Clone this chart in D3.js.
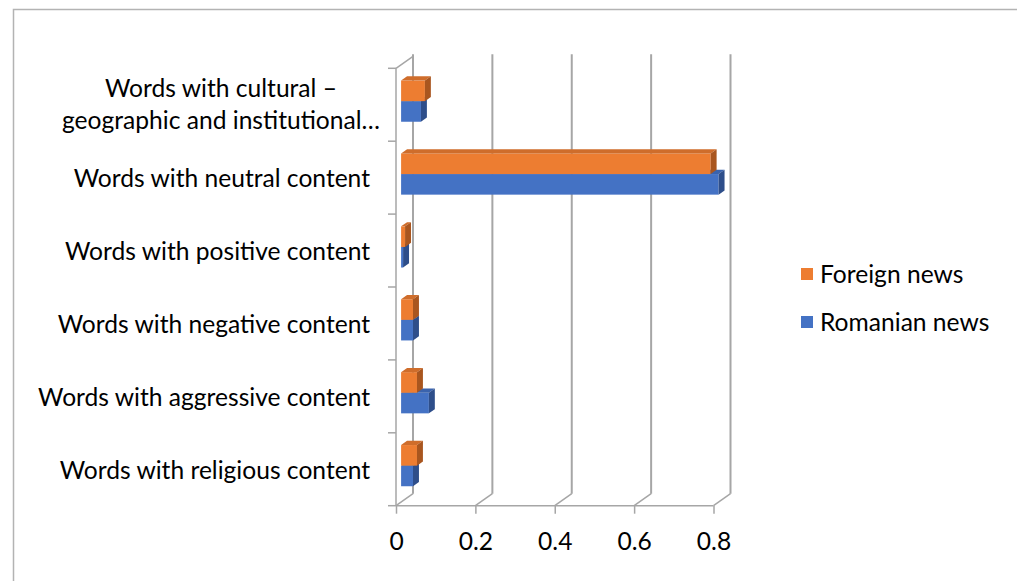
<!DOCTYPE html>
<html>
<head>
<meta charset="utf-8">
<script src="https://cdn.jsdelivr.net/npm/d3@7"></script>
<style>
  html, body { margin: 0; padding: 0; background: #fff; }
  svg { display: block; }
  text { font-family: Lato, "Open Sans", sans-serif; fill: #000; }
</style>
</head>
<body>
<svg id="chart" width="1017" height="581"></svg>
<script>
// Category labels (top to bottom) and the two series
const categories = [
  ["Words with cultural \u2013", "geographic and institutional\u2026"],
  ["Words with neutral content"],
  ["Words with positive content"],
  ["Words with negative content"],
  ["Words with aggressive content"],
  ["Words with religious content"]
];
const seriesNames = ["Foreign news", "Romanian news"];
const foreignNews  = [0.06, 0.78, 0.01, 0.03, 0.04, 0.04];
const romanianNews = [0.05, 0.80, 0.005, 0.03, 0.07, 0.03];
const xTicks = [0, 0.2, 0.4, 0.6, 0.8];

const svg = d3.select("#chart");
const W = 1017, H = 581;
const fontSize = 24.6;

// Chart area outline
svg.append("path")
  .attr("d", `M13.5,${H} V9.5 H${W}`)
  .attr("fill", "none").attr("stroke", "#b3b3b3").attr("stroke-width", 1.5);

// Front plane of the 3-D box and depth offset towards the back wall
const front = { left: 396, right: 713.5, top: 68.3, bottom: 505.7 };
const depth = { dx: 17, dy: -12 };

const x = d3.scaleLinear().domain([0, 0.8]).range([front.left, front.right]);
const catKeys = categories.map((c, i) => i);
const y = d3.scaleBand().domain(catKeys).range([front.top, front.bottom]);
const groupH = y.bandwidth() * 0.565;
const ySeries = d3.scaleBand().domain(seriesNames).range([0, groupH]);

const gridColor = "#a6a6a6";
const grid = svg.append("g").attr("fill", "none").attr("stroke", gridColor);

// Back wall gridlines and floor diagonals
xTicks.forEach(t => {
  const fx = x(t), bx = fx + depth.dx;
  const by = front.bottom + depth.dy;
  grid.append("line").attr("x1", bx).attr("x2", bx)
    .attr("y1", by).attr("y2", front.top + depth.dy - 2)
    .attr("stroke-width", 2);
  grid.append("line").attr("x1", fx).attr("y1", front.bottom)
    .attr("x2", bx).attr("y2", by).attr("stroke-width", 1.5);
});

// Floor front edge, left wall front edge and top edge
grid.append("line").attr("x1", front.left).attr("x2", front.right)
  .attr("y1", front.bottom).attr("y2", front.bottom).attr("stroke-width", 1.5);
grid.append("line").attr("x1", front.left).attr("x2", front.left)
  .attr("y1", front.top).attr("y2", front.bottom).attr("stroke-width", 1.5);
grid.append("line").attr("x1", front.left).attr("y1", front.top)
  .attr("x2", front.left + depth.dx).attr("y2", front.top + depth.dy)
  .attr("stroke-width", 1.5);

// Category tick marks on the left edge
const catEdges = catKeys.map(k => y(k)).concat([front.bottom]);
catEdges.forEach(v => {
  grid.append("line").attr("x1", front.left - 8).attr("x2", front.left)
    .attr("y1", v).attr("y2", v).attr("stroke-width", 1.5);
});

// Value axis ticks and labels along the front floor edge
const xAxis = d3.axisBottom(x).tickValues(xTicks).tickFormat(d3.format("")).tickSize(8).tickPadding(19);
const axG = svg.append("g").attr("transform", `translate(0,${front.bottom})`).call(xAxis);
axG.select(".domain").remove();
axG.selectAll(".tick line").attr("stroke", gridColor).attr("stroke-width", 1.5);
axG.selectAll(".tick text").attr("font-size", fontSize).attr("font-family", "Lato, sans-serif").attr("fill", "#000");

// Bars: drawn as prisms part-way into the depth of the box
const f0 = 0.3, f1 = 0.65;
const off0 = { x: depth.dx * f0, y: depth.dy * f0 };
const bd = { x: depth.dx * (f1 - f0), y: depth.dy * (f1 - f0) };
const colors = {
  "Foreign news":  { front: "#ED7D31", top: "#CF6D2B", side: "#A9561F" },
  "Romanian news": { front: "#4472C4", top: "#3A63AD", side: "#2E4E8A" }
};
const seriesValues = { "Foreign news": foreignNews, "Romanian news": romanianNews };

const bars = svg.append("g");
catKeys.forEach(k => {
  // lower series first so the upper one overlaps its top face
  ["Romanian news", "Foreign news"].forEach(s => {
    const v = seriesValues[s][k];
    const c = colors[s];
    const x0 = x(0) + off0.x, x1 = x(v) + off0.x;
    const y0 = y(k) + (y.bandwidth() - groupH) / 2 + ySeries(s) + off0.y;
    const y1 = y0 + ySeries.bandwidth();
    const g = bars.append("g");
    g.append("rect").attr("x", x0).attr("y", y0)
      .attr("width", x1 - x0).attr("height", y1 - y0).attr("fill", c.front);
    g.append("path").attr("fill", c.top)
      .attr("d", `M${x0},${y0} L${x1},${y0} L${x1 + bd.x},${y0 + bd.y} L${x0 + bd.x},${y0 + bd.y} Z`);
    g.append("path").attr("fill", c.side)
      .attr("d", `M${x1},${y0} L${x1 + bd.x},${y0 + bd.y} L${x1 + bd.x},${y1 + bd.y} L${x1},${y1} Z`);
  });
});

// Category labels left of the box; wrapped labels are centred line by line
const labelG = svg.append("g").attr("font-size", fontSize);
categories.forEach((lines, k) => {
  const cy = y(k) + y.bandwidth() / 2 + 1;
  if (lines.length === 1) {
    labelG.append("text").attr("text-anchor", "end")
      .attr("x", 370).attr("y", cy).attr("dy", "0.35em").text(lines[0]);
  } else {
    const lh = 32;
    lines.forEach((ln, i) => {
      labelG.append("text").attr("text-anchor", "middle")
        .attr("x", 221).attr("y", cy + (i - 0.5) * lh - 1).attr("dy", "0.35em").text(ln);
    });
  }
});

// Legend
const legend = svg.append("g").attr("font-size", fontSize);
seriesNames.forEach((s, i) => {
  const ly = 274 + i * 48;
  legend.append("rect").attr("x", 801).attr("y", ly - 6).attr("width", 12).attr("height", 12)
    .attr("fill", colors[s].front);
  legend.append("text").attr("x", 820).attr("y", ly).attr("dy", "0.35em").text(s);
});
</script>
</body>
</html>
